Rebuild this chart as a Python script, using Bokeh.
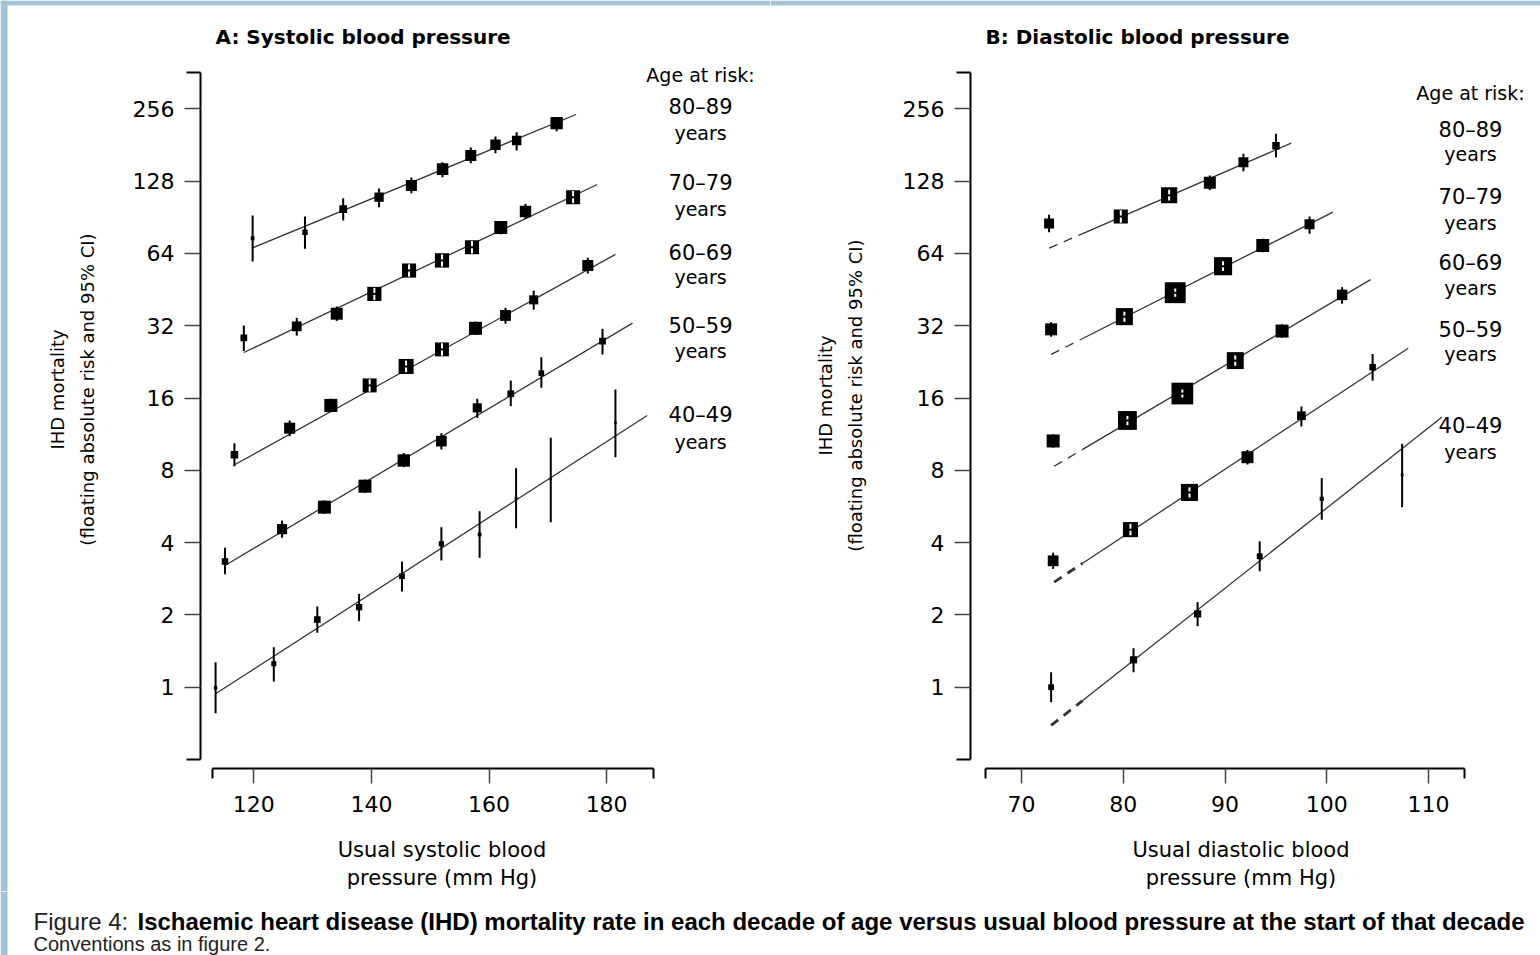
import math
from bokeh.plotting import figure
from bokeh.models import (Range1d, FixedTicker, PrintfTickFormatter, Label, ColumnDataSource,
                          BoxAnnotation)
from bokeh.layouts import column, row
from bokeh.embed import file_html
from bokeh.resources import INLINE

# ---------------------------------------------------------------- data
age_groups = ["80–89", "70–79", "60–69", "50–59", "40–49"]
y_ticks = [1, 2, 4, 8, 16, 32, 64, 128, 256]
sbp_ticks = [120, 140, 160, 180]
dbp_ticks = [70, 80, 90, 100, 110]

# Panel A: usual systolic BP (mm Hg) vs IHD mortality (floating absolute risk, 95% CI)
sbp_x_80 = [119.8, 128.7, 135.2, 141.3, 146.8, 152.1, 156.9, 161.1, 164.7, 171.5]
sbp_y_80 = [74.0, 78.4, 97.8, 109.7, 122.7, 143.6, 163.6, 181.3, 188.9, 223.0]
sbp_lo_80 = [59.2, 66.9, 87.7, 99.7, 114.0, 132.9, 152.0, 167.3, 171.6, 206.5]
sbp_hi_80 = [92.0, 91.1, 108.6, 119.2, 132.5, 153.5, 176.7, 196.4, 204.5, 236.3]

sbp_x_70 = [118.3, 127.3, 134.1, 140.5, 146.4, 152.0, 157.1, 162.0, 166.2, 174.3]
sbp_y_70 = [28.5, 31.8, 35.9, 43.4, 54.3, 59.8, 67.9, 82.0, 95.7, 109.7]
sbp_lo_70 = [25.1, 29.1, 33.5, 40.9, 51.2, 56.4, 64.0, 76.9, 89.0, 103.4]
sbp_hi_70 = [32.1, 34.5, 38.5, 46.0, 57.6, 63.4, 72.0, 87.4, 103.0, 116.4]

sbp_x_60 = [116.7, 126.1, 133.1, 139.7, 145.9, 152.0, 157.7, 162.8, 167.6, 176.8]
sbp_y_60 = [9.28, 11.98, 14.9, 18.05, 21.65, 25.5, 31.2, 35.3, 41.0, 57.0]
sbp_lo_60 = [8.32, 11.1, 14.0, 17.0, 20.5, 24.0, 29.3, 32.6, 37.3, 52.8]
sbp_hi_60 = [10.37, 12.9, 15.9, 19.15, 22.9, 27.05, 33.3, 38.0, 44.8, 61.4]

sbp_x_50 = [115.1, 124.8, 132.0, 138.9, 145.5, 151.9, 158.0, 163.7, 168.9, 179.3]
sbp_y_50 = [3.34, 4.55, 5.62, 6.87, 8.79, 10.58, 14.56, 16.66, 20.3, 27.6]
sbp_lo_50 = [2.95, 4.19, 5.27, 6.44, 8.24, 9.77, 13.23, 14.79, 17.65, 24.28]
sbp_hi_50 = [3.81, 4.94, 5.99, 7.32, 9.43, 11.42, 15.88, 18.92, 23.66, 31.06]

sbp_x_40 = [113.5, 123.4, 130.8, 137.9, 145.2, 151.9, 158.4, 164.6, 170.5, 181.5]
sbp_y_40 = [0.994, 1.252, 1.913, 2.154, 2.898, 3.954, 4.323, 6.12, 7.33, 12.61]
sbp_lo_40 = [0.779, 1.056, 1.685, 1.883, 2.503, 3.369, 3.458, 4.59, 4.86, 9.07]
sbp_hi_40 = [1.271, 1.467, 2.168, 2.448, 3.337, 4.637, 5.405, 8.16, 10.93, 17.36]

# fitted lines (x start, x end), (y start, y end)
sbp_fit_x = {"80–89": [119.8, 174.8], "70–79": [118.3, 178.4], "60–69": [116.5, 181.5],
             "50–59": [115.1, 184.4], "40–49": [113.5, 186.9]}
sbp_fit_y = {"80–89": [67.5, 242.4], "70–79": [24.75, 123.9], "60–69": [8.38, 63.4],
             "50–59": [3.21, 32.8], "40–49": [0.939, 13.53]}

# Panel B: usual diastolic BP (mm Hg)
dbp_x_80 = [72.7, 79.75, 84.5, 88.5, 91.8, 95.0]
dbp_y_80 = [85.3, 91.1, 111.8, 126.0, 153.5, 179.6]
dbp_lo_80 = [78.4, 85.9, 106.2, 117.5, 140.7, 161.0]
dbp_hi_80 = [92.7, 96.7, 117.7, 135.1, 166.3, 201.5]

dbp_x_70 = [72.9, 80.1, 85.1, 89.8, 93.7, 98.3]
dbp_y_70 = [30.9, 34.9, 43.9, 56.6, 69.0, 84.7]
dbp_lo_70 = [28.8, 33.2, 42.2, 54.1, 64.7, 77.2]
dbp_hi_70 = [33.1, 36.6, 45.7, 59.3, 73.6, 91.1]

dbp_x_60 = [73.1, 80.4, 85.8, 91.0, 95.6, 101.5]
dbp_y_60 = [10.6, 12.9, 16.7, 22.9, 30.4, 43.0]
dbp_lo_60 = [9.94, 12.34, 16.07, 21.8, 28.5, 39.5]
dbp_hi_60 = [11.3, 13.48, 17.35, 24.05, 32.4, 46.3]

dbp_x_50 = [73.1, 80.7, 86.5, 92.2, 97.5, 104.5]
dbp_y_50 = [3.36, 4.53, 6.47, 9.07, 13.5, 21.5]
dbp_lo_50 = [3.11, 4.29, 6.16, 8.46, 12.18, 18.9]
dbp_hi_50 = [3.63, 4.79, 6.79, 9.72, 14.75, 24.4]

dbp_x_40 = [72.9, 81.0, 87.3, 93.4, 99.5, 107.4]
dbp_y_40 = [1.0, 1.30, 2.02, 3.51, 6.09, 7.66]
dbp_lo_40 = [0.866, 1.154, 1.795, 3.04, 4.98, 5.62]
dbp_hi_40 = [1.154, 1.453, 2.26, 4.05, 7.42, 10.32]

dbp_fit_x = {"80–89": [72.7, 96.5], "70–79": [72.9, 100.6], "60–69": [73.2, 104.3],
             "50–59": [73.2, 108.0], "40–49": [72.9, 111.3]}
dbp_fit_y = {"80–89": [67.3, 184.1], "70–79": [24.3, 95.0], "60–69": [8.32, 49.8],
             "50–59": [2.74, 25.8], "40–49": [0.693, 13.3]}
dbp_extrapolated_below = 76.0   # fit drawn dashed below this DBP

sbp_series = {
    "80–89": (sbp_x_80, sbp_y_80, sbp_lo_80, sbp_hi_80),
    "70–79": (sbp_x_70, sbp_y_70, sbp_lo_70, sbp_hi_70),
    "60–69": (sbp_x_60, sbp_y_60, sbp_lo_60, sbp_hi_60),
    "50–59": (sbp_x_50, sbp_y_50, sbp_lo_50, sbp_hi_50),
    "40–49": (sbp_x_40, sbp_y_40, sbp_lo_40, sbp_hi_40),
}
dbp_series = {
    "80–89": (dbp_x_80, dbp_y_80, dbp_lo_80, dbp_hi_80),
    "70–79": (dbp_x_70, dbp_y_70, dbp_lo_70, dbp_hi_70),
    "60–69": (dbp_x_60, dbp_y_60, dbp_lo_60, dbp_hi_60),
    "50–59": (dbp_x_50, dbp_y_50, dbp_lo_50, dbp_hi_50),
    "40–49": (dbp_x_40, dbp_y_40, dbp_lo_40, dbp_hi_40),
}

# ---------------------------------------------------------------- styling / layout
FONT = "DejaVu Sans"
FRAME_BLUE = "#a4c2d5"
FIG_W, FIG_H = 770, 891
Y_LO, Y_HI = 2 ** -2.8257, 2 ** 9.498
X_AXIS_AT = 2 ** -1.1245          # where the x axis line sits (log scale value)
PX_PER_LOG2 = FIG_H / math.log2(Y_HI / Y_LO)
BOX_K = 2.4          # box side (px) = BOX_K / log2(hi/lo)  -> area ~ 1/variance
dash_width = {"80–89": 1.3, "70–79": 1.3, "60–69": 1.3, "50–59": 2.8, "40–49": 2.8}


def make_panel(xr, y_axis_at, xticks, xbounds):
    p = figure(width=FIG_W, height=FIG_H, x_range=Range1d(*xr), y_range=Range1d(Y_LO, Y_HI),
               y_axis_type="log", output_backend="svg", toolbar_location=None, min_border=0)
    p.outline_line_color = None
    p.xgrid.visible = False
    p.ygrid.visible = False
    p.background_fill_color = "white"
    p.border_fill_color = "white"

    ya = p.yaxis[0]
    ya.fixed_location = y_axis_at
    ya.ticker = FixedTicker(ticks=y_ticks, minor_ticks=[0.5, 2 ** 8.5])
    ya.bounds = (0.5, 2 ** 8.5)
    ya.formatter = PrintfTickFormatter(format="%d")
    ya.major_tick_out, ya.major_tick_in = 16, 0
    ya.minor_tick_out, ya.minor_tick_in = 14, 0
    ya.major_label_standoff = 10

    xa = p.xaxis[0]
    xa.fixed_location = X_AXIS_AT
    xa.ticker = FixedTicker(ticks=xticks, minor_ticks=list(xbounds))
    xa.bounds = xbounds
    xa.major_tick_out, xa.major_tick_in = 15, 0
    xa.minor_tick_out, xa.minor_tick_in = 10, 0
    xa.major_label_standoff = 12

    for ax in (xa, ya):
        ax.axis_line_width = 2
        ax.axis_line_color = "black"
        ax.major_tick_line_width = 1.5
        ax.major_tick_line_color = "#444444"
        ax.minor_tick_line_width = 2
        ax.minor_tick_line_color = "black"
        ax.major_label_text_font = FONT
        ax.major_label_text_font_size = "22px"
        ax.major_label_text_color = "black"

    # light-blue page frame strip along the top edge
    p.add_layout(BoxAnnotation(bottom=2 ** (9.498 - 5 / PX_PER_LOG2), fill_color=FRAME_BLUE,
                               fill_alpha=1, line_color=None))
    return p


def draw_points(p, series):
    for g in age_groups:
        xs, ys, los, his = series[g]
        w = [math.log2(h / l) for l, h in zip(los, his)]
        size = [min(24.0, max(2.5, BOX_K / wi)) for wi in w]
        src = ColumnDataSource(dict(x=xs, y=ys, lo=los, hi=his, size=size))
        p.segment(x0="x", y0="lo", x1="x", y1="hi", source=src, line_width=2, line_color="black")
        p.scatter(x="x", y="y", size="size", marker="square", source=src,
                  fill_color="black", line_color=None)
        inner = [i for i in range(len(xs)) if w[i] * PX_PER_LOG2 < size[i] - 1]
        if inner:
            isrc = ColumnDataSource(dict(x=[xs[i] for i in inner], y=[ys[i] for i in inner],
                                         lo=[los[i] for i in inner], hi=[his[i] for i in inner]))
            p.segment(x0="x", y0="lo", x1="x", y1="hi", source=isrc, line_width=2,
                      line_color="white")
            p.rect(x="x", y="y", width=4, height=2, width_units="screen",
                   height_units="screen", source=isrc, fill_color="black", line_color=None)


def add_text(p, x, y, text, size="20px", style="normal", align="center", angle=0.0,
             font=FONT, color="black"):
    p.add_layout(Label(x=x, y=y, text=text, text_font=font, text_font_size=size,
                       text_font_style=style, text_align=align, text_baseline="middle",
                       text_color=color, angle=angle))


def age_labels(p, x, entries):
    for yv, t in entries:
        size = "21px" if t[0].isdigit() else "19px"
        add_text(p, x, yv, t, size=size)


# ---------------------------------------------------------------- panel A
pA = make_panel((76.92, 207.87), 110.935, sbp_ticks, (113, 188))
pA.add_layout(BoxAnnotation(right=76.92 + 7 / 5.88, fill_color=FRAME_BLUE, fill_alpha=1,
                            line_color=None))
for g in age_groups:
    pA.line(sbp_fit_x[g], sbp_fit_y[g], line_color="#333333", line_width=1.3)
draw_points(pA, sbp_series)

add_text(pA, 113.49, 512, "A: Systolic blood pressure", size="20px", style="bold", align="left")
add_text(pA, 86.62, 17.36, "IHD mortality", size="18px", angle=math.pi / 2)
add_text(pA, 91.72, 17.36, "(floating absolute risk and 95% CI)", size="18px", angle=math.pi / 2)
add_text(pA, 152.0, 0.209, "Usual systolic blood", size="21px")
add_text(pA, 152.0, 0.161, "pressure (mm Hg)", size="21px")
age_labels(pA, 195.97, [(352.4, "Age at risk:"), (259.3, "80–89"), (202.1, "years"),
                        (125.1, "70–79"), (98.4, "years"), (64.5, "60–69"), (50.8, "years"),
                        (31.8, "50–59"), (25.0, "years"), (13.53, "40–49"), (10.54, "years")])

# ---------------------------------------------------------------- panel B
pB = make_panel((45.32, 121.0), 64.978, dbp_ticks, (66.5, 113.5))
for g in age_groups:
    (x0, x1), (y0, y1) = dbp_fit_x[g], dbp_fit_y[g]
    xb = dbp_extrapolated_below
    t = (xb - x0) / (x1 - x0)
    yb = 2 ** (math.log2(y0) + t * math.log2(y1 / y0))
    pB.line([x0, xb], [y0, yb], line_color="#333333", line_width=dash_width[g], line_dash="9 7")
    pB.line([xb, x1], [yb, y1], line_color="#333333", line_width=1.3)
draw_points(pB, dbp_series)

add_text(pB, 66.45, 512, "B: Diastolic blood pressure", size="20px", style="bold", align="left")
add_text(pB, 50.73, 16.39, "IHD mortality", size="18px", angle=math.pi / 2)
add_text(pB, 53.68, 16.39, "(floating absolute risk and 95% CI)", size="18px", angle=math.pi / 2)
add_text(pB, 91.56, 0.209, "Usual diastolic blood", size="21px")
add_text(pB, 91.56, 0.161, "pressure (mm Hg)", size="21px")
age_labels(pB, 114.12, [(299.3, "Age at risk:"), (209.9, "80–89"), (165.2, "years"),
                        (109.4, "70–79"), (86.0, "years"), (58.6, "60–69"), (46.1, "years"),
                        (30.8, "50–59"), (24.3, "years"), (12.2, "40–49"), (9.49, "years")])

# ---------------------------------------------------------------- caption
cap = figure(width=1540, height=64, x_range=Range1d(0, 1540), y_range=Range1d(0, 64),
             output_backend="svg", toolbar_location=None, x_axis_location=None,
             y_axis_location=None, min_border=0)
cap.outline_line_color = None
cap.grid.visible = False
cap.add_layout(BoxAnnotation(right=7, fill_color=FRAME_BLUE, fill_alpha=1, line_color=None))
CAP_FONT = "Liberation Sans"
add_text(cap, 33, 34, "Figure 4:", size="24px", align="left", font=CAP_FONT, color="#222222")
add_text(cap, 137, 34, "Ischaemic heart disease (IHD) mortality rate in each decade of age "
                       "versus usual blood pressure at the start of that decade",
         size="24px", style="bold", align="left", font=CAP_FONT)
add_text(cap, 33, 12, "Conventions as in figure 2.", size="20px", align="left", font=CAP_FONT,
         color="#222222")

layout = column(row(pA, pB), cap)
open("out.html", "w").write(file_html(layout, INLINE))
